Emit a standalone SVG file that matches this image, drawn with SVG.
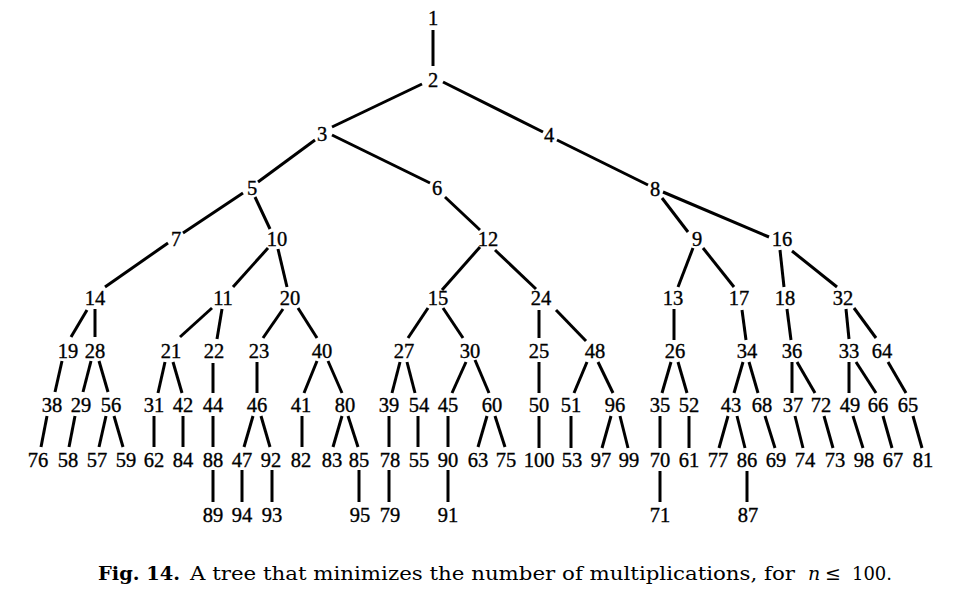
<svg xmlns="http://www.w3.org/2000/svg" width="960" height="600" viewBox="0 0 960 600">
<style>
.node text{font-family:"Liberation Serif","Times New Roman",serif;font-size:20.5px;fill:#000;stroke:#000;stroke-width:0.35px;text-anchor:middle}
.edges line{stroke:#000;stroke-width:3;stroke-linecap:butt}
.cap{font-family:"DejaVu Serif","Liberation Serif",serif;font-size:19px;fill:#000}
</style>
<rect width="960" height="600" fill="#fff"/>
<g id="connectors" class="edges">
<line x1="433" y1="30" x2="433" y2="66"/>
<line x1="422" y1="84" x2="332" y2="127"/>
<line x1="443" y1="82" x2="543" y2="132"/>
<line x1="315" y1="140" x2="258" y2="182"/>
<line x1="332" y1="135" x2="430" y2="183"/>
<line x1="557" y1="140" x2="648" y2="185"/>
<line x1="243" y1="193" x2="183" y2="233"/>
<line x1="255" y1="197" x2="270" y2="229"/>
<line x1="445" y1="197" x2="480" y2="230"/>
<line x1="662" y1="198" x2="688" y2="232"/>
<line x1="663" y1="192" x2="769" y2="237"/>
<line x1="168" y1="243" x2="105" y2="287"/>
<line x1="268" y1="248" x2="233" y2="287"/>
<line x1="278" y1="249" x2="287" y2="287"/>
<line x1="480" y1="247" x2="442" y2="290"/>
<line x1="495" y1="250" x2="536" y2="289"/>
<line x1="693" y1="248" x2="678" y2="287"/>
<line x1="703" y1="248" x2="734" y2="287"/>
<line x1="780" y1="250" x2="784" y2="287"/>
<line x1="792" y1="251" x2="837" y2="287"/>
<line x1="87" y1="310" x2="71" y2="337"/>
<line x1="95" y1="309" x2="95" y2="337"/>
<line x1="212" y1="308" x2="180" y2="337"/>
<line x1="222" y1="309" x2="217" y2="339"/>
<line x1="283" y1="309" x2="263" y2="338"/>
<line x1="298" y1="308" x2="317" y2="338"/>
<line x1="428" y1="308" x2="408" y2="338"/>
<line x1="443" y1="308" x2="463" y2="338"/>
<line x1="539" y1="310" x2="539" y2="338"/>
<line x1="556" y1="310" x2="586" y2="341"/>
<line x1="674" y1="309" x2="674" y2="340"/>
<line x1="742" y1="310" x2="746" y2="340"/>
<line x1="787" y1="309" x2="791" y2="340"/>
<line x1="846" y1="309" x2="849" y2="339"/>
<line x1="854" y1="308" x2="876" y2="338"/>
<line x1="62" y1="361" x2="55" y2="392"/>
<line x1="91" y1="361" x2="83" y2="392"/>
<line x1="99" y1="361" x2="108" y2="392"/>
<line x1="165" y1="362" x2="158" y2="393"/>
<line x1="173" y1="362" x2="182" y2="393"/>
<line x1="213" y1="363" x2="213" y2="393"/>
<line x1="257" y1="362" x2="257" y2="393"/>
<line x1="317" y1="361" x2="304" y2="393"/>
<line x1="328" y1="361" x2="342" y2="393"/>
<line x1="400" y1="362" x2="392" y2="393"/>
<line x1="407" y1="362" x2="415" y2="393"/>
<line x1="466" y1="362" x2="452" y2="393"/>
<line x1="475" y1="360" x2="489" y2="393"/>
<line x1="539" y1="362" x2="539" y2="393"/>
<line x1="587" y1="362" x2="574" y2="393"/>
<line x1="598" y1="362" x2="613" y2="393"/>
<line x1="671" y1="362" x2="662" y2="393"/>
<line x1="678" y1="362" x2="687" y2="393"/>
<line x1="743" y1="362" x2="734" y2="393"/>
<line x1="749" y1="362" x2="758" y2="393"/>
<line x1="792" y1="362" x2="792" y2="393"/>
<line x1="797" y1="362" x2="815" y2="393"/>
<line x1="849" y1="362" x2="849" y2="393"/>
<line x1="856" y1="362" x2="876" y2="393"/>
<line x1="888" y1="362" x2="906" y2="393"/>
<line x1="47" y1="416" x2="41" y2="447"/>
<line x1="75" y1="416" x2="69" y2="447"/>
<line x1="106" y1="416" x2="99" y2="447"/>
<line x1="114" y1="416" x2="123" y2="447"/>
<line x1="154" y1="416" x2="154" y2="447"/>
<line x1="183" y1="416" x2="183" y2="447"/>
<line x1="213" y1="416" x2="213" y2="447"/>
<line x1="253" y1="416" x2="244" y2="447"/>
<line x1="261" y1="416" x2="270" y2="447"/>
<line x1="302" y1="416" x2="302" y2="447"/>
<line x1="342" y1="416" x2="333" y2="447"/>
<line x1="348" y1="416" x2="358" y2="447"/>
<line x1="389" y1="416" x2="389" y2="447"/>
<line x1="418" y1="416" x2="418" y2="447"/>
<line x1="448" y1="416" x2="448" y2="447"/>
<line x1="487" y1="416" x2="478" y2="447"/>
<line x1="495" y1="416" x2="505" y2="447"/>
<line x1="539" y1="416" x2="539" y2="448"/>
<line x1="571" y1="416" x2="571" y2="448"/>
<line x1="611" y1="416" x2="602" y2="448"/>
<line x1="620" y1="416" x2="628" y2="448"/>
<line x1="660" y1="416" x2="660" y2="448"/>
<line x1="689" y1="416" x2="689" y2="448"/>
<line x1="728" y1="416" x2="719" y2="448"/>
<line x1="737" y1="416" x2="745" y2="448"/>
<line x1="765" y1="416" x2="775" y2="448"/>
<line x1="795" y1="416" x2="803" y2="448"/>
<line x1="824" y1="416" x2="833" y2="448"/>
<line x1="853" y1="416" x2="863" y2="448"/>
<line x1="883" y1="416" x2="892" y2="448"/>
<line x1="913" y1="416" x2="922" y2="448"/>
<line x1="213" y1="470" x2="213" y2="502"/>
<line x1="242" y1="470" x2="242" y2="502"/>
<line x1="272" y1="470" x2="272" y2="502"/>
<line x1="359" y1="470" x2="359" y2="502"/>
<line x1="389" y1="470" x2="389" y2="502"/>
<line x1="448" y1="470" x2="448" y2="502"/>
<line x1="660" y1="471" x2="660" y2="502"/>
<line x1="747" y1="471" x2="747" y2="502"/>
</g>
<g class="node" id="n1"><text x="433" y="25">1</text></g>
<g class="node" id="n2"><text x="433" y="87">2</text></g>
<g class="node" id="n3"><text x="322" y="141">3</text></g>
<g class="node" id="n4"><text x="549" y="142">4</text></g>
<g class="node" id="n5"><text x="252" y="195">5</text></g>
<g class="node" id="n6"><text x="437" y="195">6</text></g>
<g class="node" id="n8"><text x="655" y="196">8</text></g>
<g class="node" id="n7"><text x="176" y="246">7</text></g>
<g class="node" id="n10"><text x="277" y="246">10</text></g>
<g class="node" id="n12"><text x="488" y="246">12</text></g>
<g class="node" id="n9"><text x="697" y="246">9</text></g>
<g class="node" id="n16"><text x="782" y="246">16</text></g>
<g class="node" id="n14"><text x="95" y="305">14</text></g>
<g class="node" id="n11"><text x="223" y="305">11</text></g>
<g class="node" id="n20"><text x="290" y="305">20</text></g>
<g class="node" id="n15"><text x="438" y="305">15</text></g>
<g class="node" id="n24"><text x="541" y="305">24</text></g>
<g class="node" id="n13"><text x="673" y="305">13</text></g>
<g class="node" id="n17"><text x="739" y="305">17</text></g>
<g class="node" id="n18"><text x="785" y="305">18</text></g>
<g class="node" id="n32"><text x="843" y="305">32</text></g>
<g class="node" id="n19"><text x="68" y="358">19</text></g>
<g class="node" id="n28"><text x="95" y="358">28</text></g>
<g class="node" id="n21"><text x="171" y="358">21</text></g>
<g class="node" id="n22"><text x="214" y="358">22</text></g>
<g class="node" id="n23"><text x="259" y="358">23</text></g>
<g class="node" id="n40"><text x="322" y="358">40</text></g>
<g class="node" id="n27"><text x="404" y="358">27</text></g>
<g class="node" id="n30"><text x="470" y="358">30</text></g>
<g class="node" id="n25"><text x="539" y="358">25</text></g>
<g class="node" id="n48"><text x="595" y="358">48</text></g>
<g class="node" id="n26"><text x="675" y="358">26</text></g>
<g class="node" id="n34"><text x="747" y="358">34</text></g>
<g class="node" id="n36"><text x="792" y="358">36</text></g>
<g class="node" id="n33"><text x="849" y="358">33</text></g>
<g class="node" id="n64"><text x="882" y="358">64</text></g>
<g class="node" id="n38"><text x="52" y="412">38</text></g>
<g class="node" id="n29"><text x="81" y="412">29</text></g>
<g class="node" id="n56"><text x="111" y="412">56</text></g>
<g class="node" id="n31"><text x="154" y="412">31</text></g>
<g class="node" id="n42"><text x="183" y="412">42</text></g>
<g class="node" id="n44"><text x="213" y="412">44</text></g>
<g class="node" id="n46"><text x="257" y="412">46</text></g>
<g class="node" id="n41"><text x="301" y="412">41</text></g>
<g class="node" id="n80"><text x="345" y="412">80</text></g>
<g class="node" id="n39"><text x="389" y="412">39</text></g>
<g class="node" id="n54"><text x="419" y="412">54</text></g>
<g class="node" id="n45"><text x="448" y="412">45</text></g>
<g class="node" id="n60"><text x="492" y="412">60</text></g>
<g class="node" id="n50"><text x="539" y="412">50</text></g>
<g class="node" id="n51"><text x="571" y="412">51</text></g>
<g class="node" id="n96"><text x="615" y="412">96</text></g>
<g class="node" id="n35"><text x="660" y="412">35</text></g>
<g class="node" id="n52"><text x="689" y="412">52</text></g>
<g class="node" id="n43"><text x="731" y="412">43</text></g>
<g class="node" id="n68"><text x="762" y="412">68</text></g>
<g class="node" id="n37"><text x="793" y="412">37</text></g>
<g class="node" id="n72"><text x="821" y="412">72</text></g>
<g class="node" id="n49"><text x="850" y="412">49</text></g>
<g class="node" id="n66"><text x="878" y="412">66</text></g>
<g class="node" id="n65"><text x="908" y="412">65</text></g>
<g class="node" id="n76"><text x="38" y="467">76</text></g>
<g class="node" id="n58"><text x="68" y="467">58</text></g>
<g class="node" id="n57"><text x="97" y="467">57</text></g>
<g class="node" id="n59"><text x="126" y="467">59</text></g>
<g class="node" id="n62"><text x="154" y="467">62</text></g>
<g class="node" id="n84"><text x="183" y="467">84</text></g>
<g class="node" id="n88"><text x="213" y="467">88</text></g>
<g class="node" id="n47"><text x="242" y="467">47</text></g>
<g class="node" id="n92"><text x="271" y="467">92</text></g>
<g class="node" id="n82"><text x="301" y="467">82</text></g>
<g class="node" id="n83"><text x="332" y="467">83</text></g>
<g class="node" id="n85"><text x="359" y="467">85</text></g>
<g class="node" id="n78"><text x="390" y="467">78</text></g>
<g class="node" id="n55"><text x="419" y="467">55</text></g>
<g class="node" id="n90"><text x="448" y="467">90</text></g>
<g class="node" id="n63"><text x="478" y="467">63</text></g>
<g class="node" id="n75"><text x="506" y="467">75</text></g>
<g class="node" id="n100"><text x="539" y="467">100</text></g>
<g class="node" id="n53"><text x="572" y="467">53</text></g>
<g class="node" id="n97"><text x="601" y="467">97</text></g>
<g class="node" id="n99"><text x="629" y="467">99</text></g>
<g class="node" id="n70"><text x="660" y="467">70</text></g>
<g class="node" id="n61"><text x="689" y="467">61</text></g>
<g class="node" id="n77"><text x="718" y="467">77</text></g>
<g class="node" id="n86"><text x="747" y="467">86</text></g>
<g class="node" id="n69"><text x="776" y="467">69</text></g>
<g class="node" id="n74"><text x="805" y="467">74</text></g>
<g class="node" id="n73"><text x="835" y="467">73</text></g>
<g class="node" id="n98"><text x="864" y="467">98</text></g>
<g class="node" id="n67"><text x="893" y="467">67</text></g>
<g class="node" id="n81"><text x="923" y="467">81</text></g>
<g class="node" id="n89"><text x="213" y="522">89</text></g>
<g class="node" id="n94"><text x="242" y="522">94</text></g>
<g class="node" id="n93"><text x="272" y="522">93</text></g>
<g class="node" id="n95"><text x="360" y="522">95</text></g>
<g class="node" id="n79"><text x="390" y="522">79</text></g>
<g class="node" id="n91"><text x="448" y="522">91</text></g>
<g class="node" id="n71"><text x="660" y="522">71</text></g>
<g class="node" id="n87"><text x="748" y="522">87</text></g>
<g id="caption">
<text class="cap" x="98" y="580" font-weight="bold" textLength="82" lengthAdjust="spacingAndGlyphs">Fig. 14.</text>
<text class="cap" x="190" y="580" textLength="605" lengthAdjust="spacingAndGlyphs">A tree that minimizes the number of multiplications, for</text>
<text class="cap" x="808" y="580" font-style="italic">n</text>
<text class="cap" x="825" y="580">≤</text>
<text class="cap" x="852" y="580" textLength="40" lengthAdjust="spacingAndGlyphs">100.</text>
</g>
</svg>
